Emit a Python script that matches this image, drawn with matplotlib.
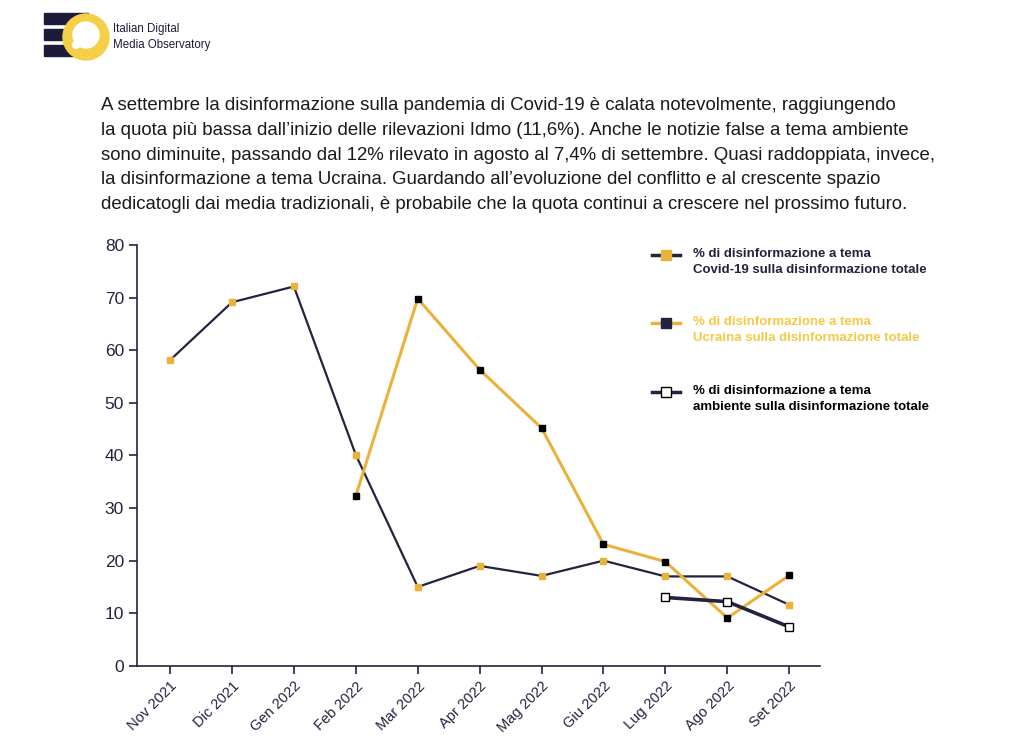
import numpy as np
import matplotlib.pyplot as plt
from matplotlib.patches import Circle, Rectangle

plt.rcParams['font.family'] = ['Liberation Sans', 'DejaVu Sans']

# data
months = ["Nov 2021", "Dic 2021", "Gen 2022", "Feb 2022", "Mar 2022", "Apr 2022",
          "Mag 2022", "Giu 2022", "Lug 2022", "Ago 2022", "Set 2022"]
covid = [58.1, 69.1, 72.1, 40.1, 15.0, 19.0, 17.1, 20.0, 17.0, 17.0, 11.6]
ucraina = [None, None, None, 32.3, 69.8, 56.3, 45.2, 23.1, 19.8, 9.1, 17.2]
ambiente = [None, None, None, None, None, None, None, None, 13.0, 12.2, 7.4]
yticks = [0, 10, 20, 30, 40, 50, 60, 70, 80]

navy = "#24223f"
yellow = "#e8b23b"
leg_yellow = "#f5c945"

def to_arr(v):
    return np.array([np.nan if x is None else x for x in v], dtype=float)

fig = plt.figure(figsize=(10.24, 7.49), dpi=100)
ax = fig.add_axes([0.134, 0.111, 0.667, 0.562])
x = np.arange(len(months))

ax.plot(x, covid, color=navy, lw=1.6, marker="s", ms=4.5, mfc=yellow, mec=yellow, zorder=3)
ax.plot(x, to_arr(ucraina), color=yellow, lw=2.2, marker="s", ms=4.5, mfc="black", mec="black", zorder=4)
ax.plot(x, to_arr(ambiente), color=navy, lw=2.6, marker="s", ms=5.8, mfc="white", mec="black", mew=1, zorder=5)

ax.set_xlim(-0.53, 10.5)
ax.set_ylim(0, 80)
ax.set_yticks(yticks)
ax.set_xticks(x)
ax.set_xticklabels(months, rotation=45, ha="right", rotation_mode="anchor", fontsize=10.5, color=navy)
ax.tick_params(axis="y", labelsize=12.5, colors=navy, length=6, width=1.2, direction="out")
ax.tick_params(axis="x", length=6, width=1.2, colors=navy, direction="out")
for s in ["top", "right"]:
    ax.spines[s].set_visible(False)
for s in ["left", "bottom"]:
    ax.spines[s].set_color(navy)
    ax.spines[s].set_linewidth(1.2)

# legend drawn by hand (pixel positions converted to figure coords)
leg = [("% di disinformazione a tema\nCovid-19 sulla disinformazione totale", navy, yellow, yellow, navy),
       ("% di disinformazione a tema\nUcraina sulla disinformazione totale", yellow, navy, navy, leg_yellow),
       ("% di disinformazione a tema\nambiente sulla disinformazione totale", navy, "white", "black", "black")]
leg_px = [255, 323, 392]
for (lab, lc, mfc, mec, tc), py in zip(leg, leg_px):
    ly = 1 - py / 749
    fig.add_artist(plt.Line2D([652 / 1024, 680 / 1024], [ly, ly], color=lc, lw=2.5, transform=fig.transFigure))
    fig.add_artist(plt.Line2D([666 / 1024], [ly], marker="s", ms=6.5, mfc=mfc, mec=mec, mew=1,
                              transform=fig.transFigure))
    fig.text(693 / 1024, 1 - (py - 7) / 749, lab, color=tc, fontsize=9.5, fontweight="bold",
             va="top", linespacing=1.4)

# paragraph
para = ("A settembre la disinformazione sulla pandemia di Covid-19 è calata notevolmente, raggiungendo\n"
        "la quota più bassa dall’inizio delle rilevazioni Idmo (11,6%). Anche le notizie false a tema ambiente\n"
        "sono diminuite, passando dal 12% rilevato in agosto al 7,4% di settembre. Quasi raddoppiata, invece,\n"
        "la disinformazione a tema Ucraina. Guardando all’evoluzione del conflitto e al crescente spazio\n"
        "dedicatogli dai media tradizionali, è probabile che la quota continui a crescere nel prossimo futuro.")
fig.text(0.099, 1 - 97 / 749, para, fontsize=13.4, color="#1a1a1a", va="top", linespacing=1.6)

# logo, axes in pixel units
lax = fig.add_axes([0.0, 0.9, 1.0, 0.1])
lax.set_xlim(0, 1024)
lax.set_ylim(74.9, 0)
lax.axis("off")
for yb in [13, 29, 45]:
    lax.add_patch(Rectangle((44, yb), 44, 11.5, color="#1c1b3a"))
lax.add_patch(Circle((86, 37), 23, color="#f5cf47"))
lax.add_patch(Circle((86, 35), 13, color="white"))
lax.add_patch(Circle((76, 45), 3.5, color="white"))
fig.text(113 / 1024, 1 - 37 / 749, "Italian Digital\nMedia Observatory", fontsize=8.3, color="#1c1b3a",
         va="center", linespacing=1.4)

fig.savefig("out.png", dpi=100)
